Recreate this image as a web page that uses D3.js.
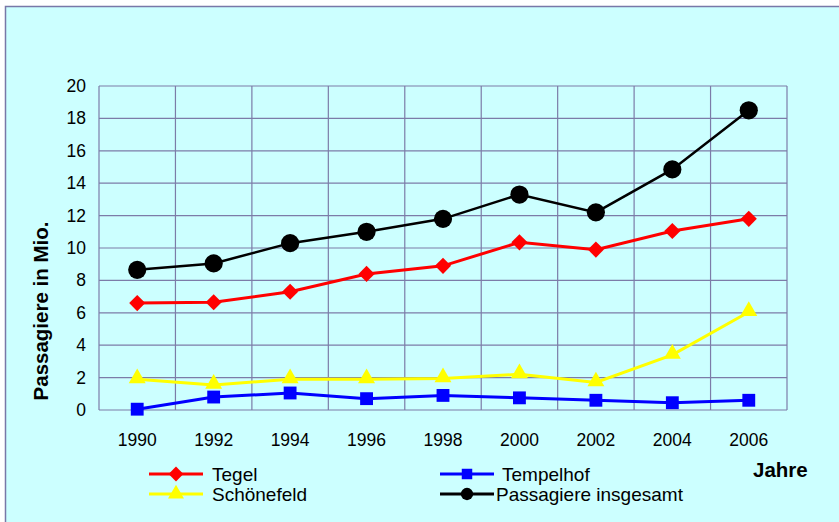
<!DOCTYPE html>
<html><head><meta charset="utf-8">
<script src="https://cdn.jsdelivr.net/npm/d3@7"></script>
<style>body{margin:0;background:#fff}svg{display:block}</style>
</head><body><svg id="c" width="839" height="522"></svg>
<script>
const years = ["1990","1992","1994","1996","1998","2000","2002","2004","2006"];
const tegel = [6.6, 6.65, 7.3, 8.4, 8.9, 10.35, 9.9, 11.05, 11.8];
const tempelhof = [0.05, 0.8, 1.05, 0.7, 0.9, 0.75, 0.6, 0.45, 0.6];
const schoenefeld = [1.9, 1.55, 1.9, 1.9, 1.95, 2.2, 1.7, 3.4, 6.05];
const gesamt = [8.65, 9.05, 10.3, 11.0, 11.8, 13.3, 12.2, 14.85, 18.5];
const yTicks = [0,2,4,6,8,10,12,14,16,18,20];

const svg = d3.select("#c");
const F = "'Liberation Sans', Arial, sans-serif";
svg.append("rect").attr("x",5.5).attr("y",6.5).attr("width",840).attr("height",520)
  .attr("fill","#CCFFFF").attr("stroke","#7878A8").attr("stroke-width",1.5);

const L=99, R=787, T=86, B=410;
const x = d3.scaleBand().domain(years).range([L,R]);
const y = d3.scaleLinear().domain([0,20]).range([B,T]);
const grid = "#7C7CA8";
const g = svg.append("g");
g.selectAll(".h").data(yTicks).join("line")
  .attr("x1",L).attr("x2",R).attr("y1",d=>y(d)).attr("y2",d=>y(d))
  .attr("stroke",grid).attr("stroke-width",1.2);
const bounds = years.map(d=>x(d)).concat([R]);
g.selectAll(".v").data(bounds).join("line")
  .attr("x1",d=>d).attr("x2",d=>d).attr("y1",T).attr("y2",B)
  .attr("stroke",grid).attr("stroke-width",1.2);

svg.selectAll(".yl").data(yTicks).join("text")
  .attr("x",86).attr("y",d=>y(d)+6).attr("text-anchor","end")
  .attr("font-family",F).attr("font-size",17.5).attr("fill","#000").text(d=>d);
svg.selectAll(".xl").data(years).join("text")
  .attr("x",d=>x(d)+x.bandwidth()/2).attr("y",446).attr("text-anchor","middle")
  .attr("font-family",F).attr("font-size",17.5).attr("fill","#000").text(d=>d);

svg.append("text").attr("transform","translate(48,311) rotate(-90)")
  .attr("text-anchor","middle").attr("font-family",F).attr("font-weight","bold")
  .attr("font-size",20.5).text("Passagiere in Mio.");
svg.append("text").attr("x",753).attr("y",477).attr("font-family",F)
  .attr("font-weight","bold").attr("font-size",20.5).text("Jahre");

const cx = d => x(d)+x.bandwidth()/2;
const series = [
  {name:"Schönefeld", vals:schoenefeld, color:"#FFFF00", sym:d3.symbolTriangle, size:125, rot:0, w:3},
  {name:"Tempelhof", vals:tempelhof, color:"#0000FF", sym:d3.symbolSquare, size:165, rot:0, w:3},
  {name:"Tegel", vals:tegel, color:"#FF0000", sym:d3.symbolSquare, size:130, rot:45, w:3},
  {name:"Passagiere insgesamt", vals:gesamt, color:"#000000", sym:d3.symbolCircle, size:260, rot:0, w:2.5}
];
const line = d3.line().x(d=>cx(d[0])).y(d=>y(d[1]));
series.forEach(s=>{
  const pts = years.map((yr,i)=>[yr,s.vals[i]]);
  svg.append("path").attr("d",line(pts)).attr("fill","none")
    .attr("stroke",s.color).attr("stroke-width",s.w);
  svg.selectAll(null).data(pts).join("path")
    .attr("transform",d=>`translate(${cx(d[0])},${y(d[1]) + (s.sym===d3.symbolTriangle?-1:0)}) rotate(${s.rot})`)
    .attr("d",d3.symbol(s.sym,s.size)()).attr("fill",s.color);
});

const leg = [
  {s:series[2], lx:149, tx:212, ly:474},
  {s:series[0], lx:149, tx:212, ly:494},
  {s:series[1], lx:440, tx:502, ly:474},
  {s:series[3], lx:440, tx:496, ly:494}
];
leg.forEach(o=>{
  svg.append("line").attr("x1",o.lx).attr("x2",o.lx+54).attr("y1",o.ly).attr("y2",o.ly)
    .attr("stroke",o.s.color).attr("stroke-width",3);
  svg.append("path").attr("transform",`translate(${o.lx+27},${o.ly}) rotate(${o.s.rot})`)
    .attr("d",d3.symbol(o.s.sym,o.s.sym===d3.symbolCircle?120:110)()).attr("fill",o.s.color);
  svg.append("text").attr("x",o.tx).attr("y",o.ly+6.5).attr("font-family",F)
    .attr("font-size",19).text(o.s.name);
});
</script></body></html>
